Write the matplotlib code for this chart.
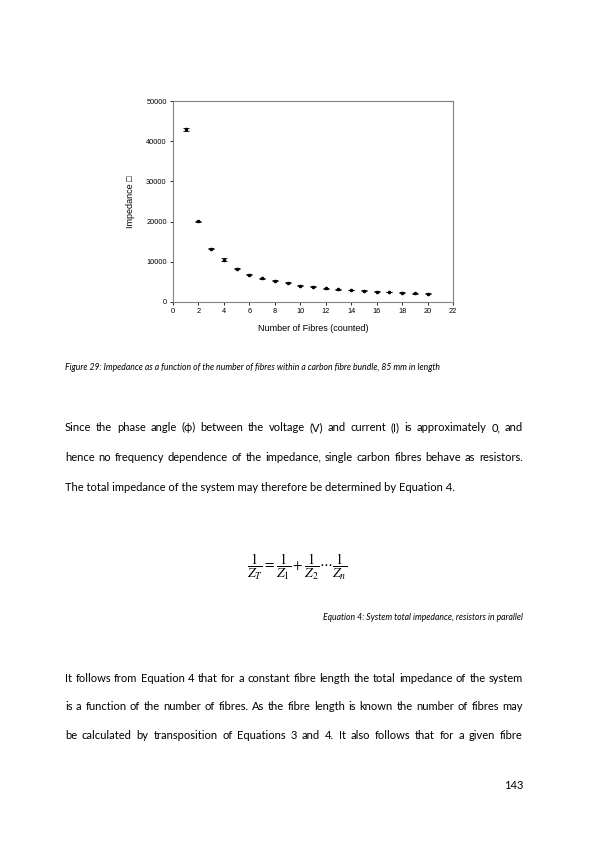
import matplotlib
matplotlib.use("Agg")
import matplotlib.pyplot as plt

# data
fibres = [1, 2, 3, 4, 5, 6, 7, 8, 9, 10, 11, 12, 13, 14, 15, 16, 17, 18, 19, 20]
impedance = [43000, 20100, 13300, 10500, 8300, 6800, 5900, 5300, 4800, 4100,
             3800, 3400, 3200, 3000, 2800, 2600, 2500, 2300, 2200, 2100]
impedance_err = [400, 150, 150, 400, 150, 120, 120, 120, 100, 100,
                 100, 100, 100, 100, 100, 100, 100, 100, 100, 100]
x_ticks = list(range(0, 23, 2))
y_ticks = [0, 10000, 20000, 30000, 40000, 50000]

caption = "Figure 29: Impedance as a function of the number of fibres within a carbon fibre bundle, 85 mm in length"
para1 = [
    "Since the phase angle (\u03d5) between the voltage (V) and current (I) is approximately 0, and",
    "hence no frequency dependence of the impedance, single carbon fibres behave as resistors.",
    "The total impedance of the system may therefore be determined by Equation 4.",
]
eq_caption = "Equation 4: System total impedance, resistors in parallel"
para2 = [
    "It follows from Equation 4 that for a constant fibre length the total impedance of the system",
    "is a function of the number of fibres. As the fibre length is known the number of fibres may",
    "be calculated by transposition of Equations 3 and 4. It also follows that for a given fibre",
]

W, H = 595, 842
fig = plt.figure(figsize=(W / 100, H / 100), dpi=100)
fig.patch.set_facecolor("white")


def px(x, y):
    return x / W, 1 - y / H


# ---- chart ----
ax = fig.add_axes([173 / W, 1 - 302 / H, 280 / W, 201 / H])
ax.errorbar(fibres, impedance, yerr=impedance_err, fmt="o", ms=1.6, color="black",
            ecolor="black", elinewidth=0.6, capsize=2.4, capthick=0.6)
ax.set_xlim(0, 22)
ax.set_ylim(0, 50000)
ax.set_xticks(x_ticks)
ax.set_yticks(y_ticks)
for s in ax.spines.values():
    s.set_color("#808080")
    s.set_linewidth(0.8)
ax.tick_params(direction="out", length=2.5, width=0.6, color="black",
               labelsize=5.3, pad=2)
for lab in ax.get_xticklabels() + ax.get_yticklabels():
    lab.set_family("Liberation Sans")
ax.set_xlabel("Number of Fibres (counted)", fontsize=6.5, family="Liberation Sans", labelpad=6)
ax.set_ylabel("Impedance \u25a1", fontsize=6.5, family=["Liberation Sans", "DejaVu Sans"], labelpad=8)

# ---- page text ----
renderer = fig.canvas.get_renderer()
body_font = "Lato"
body_size = 8.0
left, right = 65, 523


def text_line(y, line, justify=True, size=body_size):
    # y is the baseline in page pixels
    if not justify:
        fig.text(*px(left, y), line, fontsize=size, family=body_font,
                 va="baseline", ha="left")
        return
    words = line.split(" ")
    objs, widths = [], []
    for w in words:
        t = fig.text(0, 0, w, fontsize=size, family=body_font, va="baseline")
        widths.append(t.get_window_extent(renderer).width)
        objs.append(t)
    gap = (right - left - sum(widths)) / (len(words) - 1)
    x = left
    for t, wd in zip(objs, widths):
        t.set_position(px(x, y))
        x += wd + gap


fig.text(*px(left, 370), caption, fontsize=6.2, family=body_font, style="italic",
         va="baseline", ha="left")

for i, line in enumerate(para1):
    text_line(431 + i * 30, line, justify=(i < len(para1) - 1))

fig.text(*px(297, 567),
         r"$\dfrac{1}{Z_T} = \dfrac{1}{Z_1} + \dfrac{1}{Z_2} \cdots \dfrac{1}{Z_n}$",
         fontsize=10, math_fontfamily="stix", ha="center", va="center")

fig.text(*px(right, 620), eq_caption, fontsize=6.2, family=body_font, style="italic",
         va="baseline", ha="right")

for i, line in enumerate(para2):
    text_line(682 + i * 28.5, line)

fig.text(*px(right, 789), "143", fontsize=body_size, family=body_font,
         va="baseline", ha="right")

fig.savefig("out.png", dpi=100, facecolor="white")
